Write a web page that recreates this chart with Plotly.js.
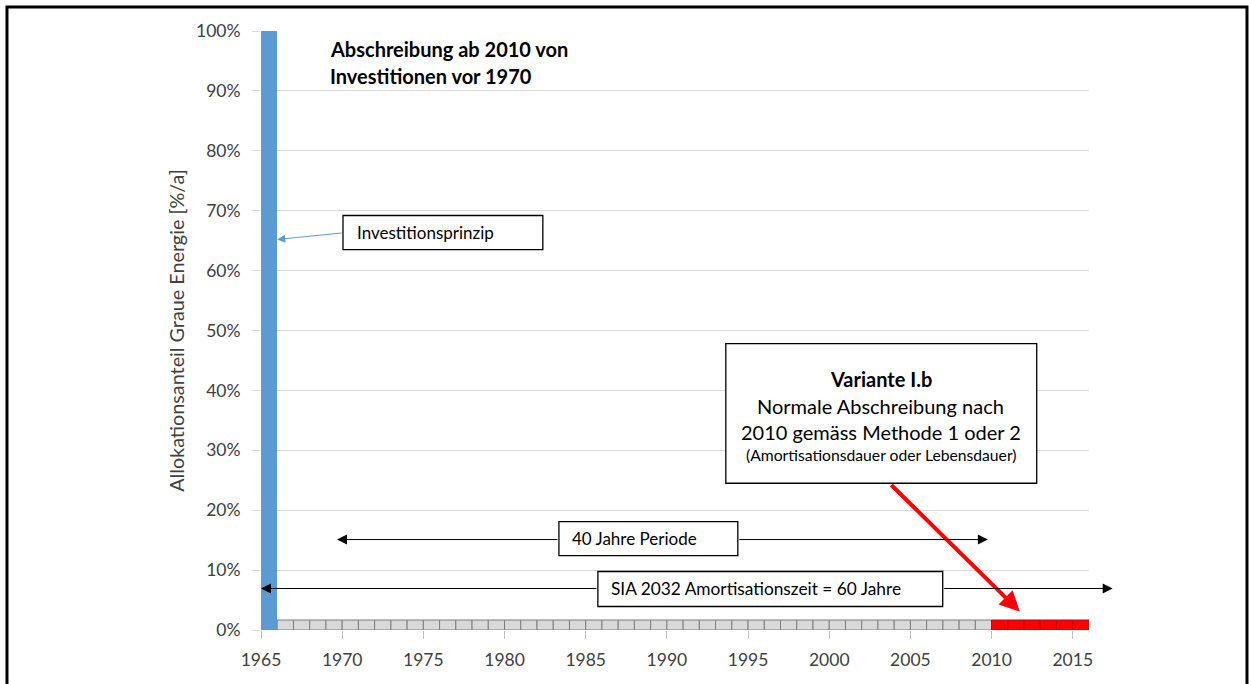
<!DOCTYPE html>
<html><head><meta charset="utf-8">
<script src="https://cdn.plot.ly/plotly-3.0.1.min.js"></script>
<style>html,body{margin:0;padding:0;background:#fff}#chart{width:1249px;height:684px}</style>
</head><body><div id="chart"></div>
<script>
// ---- data ----
const blueYears = [1965];
const blueValues = [100];
const grayYears = [1966,1967,1968,1969,1970,1971,1972,1973,1974,1975,1976,1977,1978,1979,1980,
  1981,1982,1983,1984,1985,1986,1987,1988,1989,1990,1991,1992,1993,1994,1995,1996,1997,1998,1999,
  2000,2001,2002,2003,2004,2005,2006,2007,2008,2009];
const grayValues = [1.67,1.67,1.67,1.67,1.67,1.67,1.67,1.67,1.67,1.67,1.67,1.67,1.67,1.67,1.67,
  1.67,1.67,1.67,1.67,1.67,1.67,1.67,1.67,1.67,1.67,1.67,1.67,1.67,1.67,1.67,1.67,1.67,1.67,1.67,
  1.67,1.67,1.67,1.67,1.67,1.67,1.67,1.67,1.67,1.67];
const redYears = [2010,2011,2012,2013,2014,2015];
const redValues = [1.67,1.67,1.67,1.67,1.67,1.67];
const xTicks = [1965,1970,1975,1980,1985,1990,1995,2000,2005,2010,2015];
const xLabels = ['1965','1970','1975','1980','1985','1990','1995','2000','2005','2010','2015'];
const yTicks = [0,10,20,30,40,50,60,70,80,90,100];
const yLabels = ['0%','10%','20%','30%','40%','50%','60%','70%','80%','90%','100%'];
const yTitle = 'Allokationsanteil Graue Energie [%/a]';

const FONT = 'Lato, "Open Sans", "DejaVu Sans", sans-serif';
const TXT = '#404040';

const traces = [
  {type:'bar', x:blueYears, y:blueValues, width:1, offset:0,
   marker:{color:'#5b9bd5', line:{width:0}}, hoverinfo:'skip', showlegend:false},
  {type:'bar', x:grayYears, y:grayValues, width:1, offset:0,
   marker:{color:'#d9d9d9', line:{color:'#7f7f7f', width:1}}, hoverinfo:'skip', showlegend:false},
  {type:'bar', x:redYears, y:redValues, width:1, offset:0,
   marker:{color:'#ff0000', line:{color:'#c00000', width:1}}, hoverinfo:'skip', showlegend:false}
];

function box(x0,x1,y0,y1){
  return {type:'rect', xref:'x', yref:'y', x0:x0, x1:x1, y0:y0, y1:y1,
    fillcolor:'#ffffff', line:{color:'#000000', width:1.3}, layer:'above'};
}
function txt(x,y,text,size,opts){
  return Object.assign({xref:'x', yref:'y', x:x, y:y, text:text, showarrow:false,
    font:{family:FONT, size:size, color:'#000000'}}, opts||{});
}
function arrow(x,y,ax,ay,color,w,size){
  return {xref:'x', yref:'y', axref:'x', ayref:'y', x:x, y:y, ax:ax, ay:ay, text:'',
    showarrow:true, arrowhead:2, arrowsize:size, arrowwidth:w, arrowcolor:color,
    standoff:0, startstandoff:0};
}

const shapes = [
  // outer frame
  {type:'rect', xref:'paper', yref:'paper', x0:-0.3068, x1:1.1908, y0:-0.3, y1:1.040,
   line:{color:'#000000', width:3}, fillcolor:'rgba(0,0,0,0)', layer:'above'},
  box(1970.05, 1982.36, 63.5, 69.2),
  box(1993.63, 2012.78, 24.5, 47.8),
  box(1983.35, 1994.37, 12.4, 18.1),
  box(1985.75, 2006.99, 3.92, 9.77)
];

const annotations = [
  txt(1969.1, 97.0, '<b>Abschreibung ab 2010 von</b>', 20, {xanchor:'left'}),
  txt(1969.1, 92.5, '<b>Investitionen vor 1970</b>', 20, {xanchor:'left'}),
  txt(1970.79, 66.3, 'Investitionsprinzip', 17, {xanchor:'left'}),
  arrow(1966.0, 65.2, 1970.05, 66.3, '#5b9bd5', 1, 1.6),
  txt(2003.18, 41.9, '<b>Variante I.b</b>', 20),
  txt(2003.18, 37.4, 'Normale Abschreibung nach', 20),
  txt(2003.18, 33.0, '2010 gemäss Methode 1 oder 2', 20),
  txt(2003.18, 29.2, '(Amortisationsdauer oder Lebensdauer)', 15.7),
  arrow(2011.74, 3.09, 2003.73, 24.46, '#ff0000', 4, 1),
  arrow(1969.68, 15.1, 1983.35, 15.1, '#000000', 1, 2),
  arrow(2009.77, 15.1, 1994.37, 15.1, '#000000', 1, 2),
  txt(1984.03, 15.2, '40 Jahre Periode', 17, {xanchor:'left'}),
  arrow(1965.0, 6.93, 1985.75, 6.93, '#000000', 1, 2),
  arrow(2017.46, 6.93, 2006.99, 6.93, '#000000', 1, 2),
  txt(1986.45, 6.9, 'SIA 2032 Amortisationszeit = 60 Jahre', 17.3, {xanchor:'left'})
];

const layout = {
  width:1249, height:684,
  margin:{l:261, r:160, t:31, b:54, pad:0},
  paper_bgcolor:'#ffffff', plot_bgcolor:'#ffffff',
  font:{family:FONT, color:TXT},
  barmode:'overlay', bargap:0,
  showlegend:false,
  xaxis:{range:[1965,2016], tickmode:'array', tickvals:xTicks, ticktext:xLabels,
    ticks:'outside', ticklen:8, tickcolor:'#bfbfbf', tickwidth:1, ticklabelstandoff:6,
    showgrid:false, zeroline:false, showline:false, automargin:false,
    tickfont:{family:FONT, size:17.5, color:TXT}},
  yaxis:{range:[0,100], tickmode:'array', tickvals:yTicks, ticktext:yLabels,
    ticks:'outside', ticklen:8, tickcolor:'#d9d9d9', tickwidth:1, ticklabelstandoff:8,
    showgrid:true, gridcolor:'#d9d9d9', gridwidth:1, zeroline:false, showline:false,
    automargin:false,
    tickfont:{family:FONT, size:17.5, color:TXT},
    title:{text:yTitle, font:{family:FONT, size:19.8, color:TXT}, standoff:6}},
  shapes:shapes,
  annotations:annotations
};

Plotly.newPlot('chart', traces, layout, {displayModeBar:false, staticPlot:true});
</script>
</body></html>
